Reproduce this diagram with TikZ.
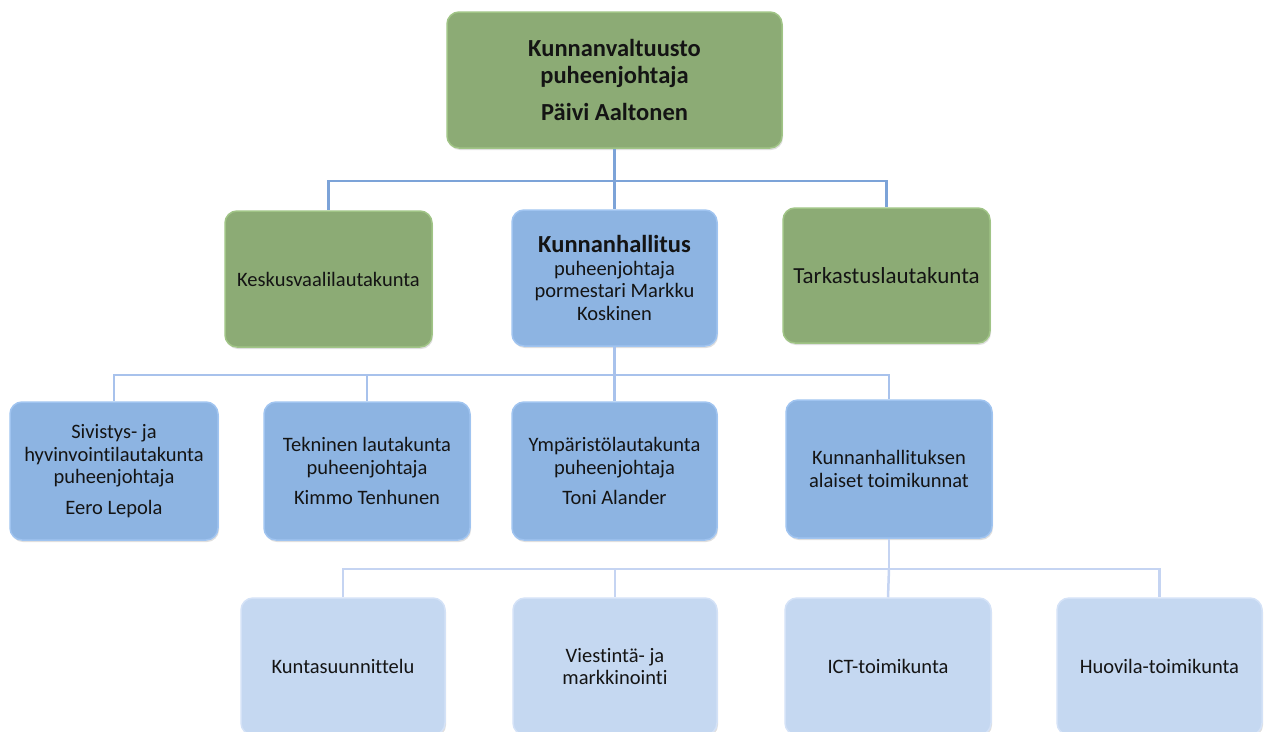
\documentclass[tikz,border=0pt]{standalone}
\usepackage{fontspec}
\setmainfont[Ligatures=NoCommon]{Carlito}
\usetikzlibrary{calc,shadows}
\definecolor{grn}{RGB}{140,171,117}
\definecolor{grnedge}{RGB}{160,196,134}
\definecolor{blu}{RGB}{141,180,226}
\definecolor{bluedge}{RGB}{160,196,240}
\definecolor{lblu}{RGB}{197,216,241}
\definecolor{lbluedge}{RGB}{212,226,247}
\definecolor{lineA}{RGB}{124,163,216}
\definecolor{lineB}{RGB}{168,194,236}
\definecolor{lineC}{RGB}{197,212,242}
\definecolor{txt}{RGB}{20,20,20}
\tikzset{
  x=1pt,y=-1pt,
  box/.style={rounded corners=12pt, align=center, inner sep=4pt, text=txt,
    font=\fontsize{20.5}{22.8}\selectfont, line width=1.5pt,
    drop shadow={shadow xshift=1pt,shadow yshift=-2pt,opacity=0.25}},
  gbox/.style={box, fill=grn, draw=grnedge},
  bbox/.style={box, fill=blu, draw=bluedge},
  lbox/.style={box, fill=lblu, draw=lbluedge},
  conA/.style={draw=lineA, line width=2.5pt},
  conB/.style={draw=lineB, line width=2.5pt},
  conC/.style={draw=lineC, line width=2.5pt},
}
\begin{document}
\begin{tikzpicture}
\useasboundingbox (0,0) rectangle (1268,731);
\begin{scope}
\clip (0,0) rectangle (1268,731);
% level 1
\node[gbox, minimum width=335pt, minimum height=136pt, font=\bfseries\fontsize{24.5}{27}\selectfont] (top) at (614.5,80)
  {Kunnanvaltuusto\\puheenjohtaja\\[10pt]Päivi Aaltonen};
% level 2
\node[gbox, minimum width=207pt, minimum height=136pt] (kesk) at (328.5,279) {Keskusvaalilautakunta};
\node[bbox, minimum width=205pt, minimum height=136pt] (kh) at (614.5,278)
  {{\bfseries\fontsize{24.5}{24}\selectfont Kunnanhallitus}\\puheenjohtaja\\pormestari Markku\\Koskinen};
\node[gbox, minimum width=207pt, minimum height=135pt, font=\fontsize{23}{24}\selectfont] (tark) at (886.5,275.5) {Tarkastuslautakunta};
% level 3
\node[bbox, minimum width=208pt, minimum height=138pt] (siv) at (114,471)
  {Sivistys- ja\\hyvinvointilautakunta\\puheenjohtaja\\[8pt]Eero Lepola};
\node[bbox, minimum width=206pt, minimum height=138pt] (tek) at (367,471)
  {Tekninen lautakunta\\puheenjohtaja\\[8pt]Kimmo Tenhunen};
\node[bbox, minimum width=205pt, minimum height=138pt] (ymp) at (614.5,471)
  {Ympäristölautakunta\\puheenjohtaja\\[8pt]Toni Alander};
\node[bbox, minimum width=206pt, minimum height=138pt] (kha) at (889,469)
  {Kunnanhallituksen\\alaiset toimikunnat};
% level 4
\node[lbox, minimum width=204pt, minimum height=137pt] (kun) at (343,666.5) {Kuntasuunnittelu};
\node[lbox, minimum width=204pt, minimum height=137pt] (vie) at (615,666.5) {Viestintä- ja\\markkinointi};
\node[lbox, minimum width=206pt, minimum height=137pt] (ict) at (888,666.5) {ICT-toimikunta};
\node[lbox, minimum width=205pt, minimum height=137pt] (huo) at (1159.5,666.5) {Huovila-toimikunta};
\end{scope}
% connectors
\draw[conA] (top.south) -- ++(0,32) coordinate (j1);
\draw[conA] (j1) -| (kesk.north);
\draw[conA] (j1) -| (tark.north);
\draw[conA] (j1) -- (kh.north);
\draw[conB] (kh.south) -- ++(0,28) coordinate (j2);
\draw[conB] (j2) -| (siv.north);
\draw[conB] (j2) -| (tek.north);
\draw[conB] (j2) -- (ymp.north);
\draw[conB] (j2) -| (kha.north);
\draw[conC] (kha.south) -- ++(0,30) coordinate (j3);
\draw[conC] (j3) -| (kun.north);
\draw[conC] (j3) -| (vie.north);
\draw[conC] (j3) -- (ict.north);
\draw[conC] (j3) -| (huo.north);
\end{tikzpicture}
\end{document}
